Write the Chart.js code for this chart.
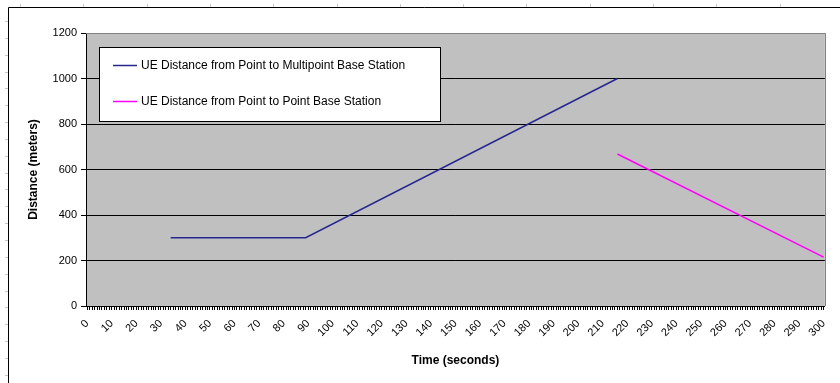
<!DOCTYPE html>
<html><head><meta charset="utf-8">
<script src="https://cdn.jsdelivr.net/npm/chart.js@4/dist/chart.umd.min.js"></script>
<style>html,body{margin:0;padding:0;background:#fff}</style>
</head><body>
<canvas id="c" width="840" height="383"></canvas>
<script>
// ---- data ----
const seriesLabels = [
  'UE Distance from Point to Multipoint Base Station',
  'UE Distance from Point to Point Base Station'
];
const seriesColors = ['#262690', '#FF00FF'];
const multipointTime = [34, 89, 216];
const multipointDist = [300, 300, 1000];
const p2pTime = [216, 300];
const p2pDist = [668, 215];
const xLabelValues = [0,10,20,30,40,50,60,70,80,90,100,110,120,130,140,150,160,170,180,190,200,210,220,230,240,250,260,270,280,290,300];
const yTickValues = [0,200,400,600,800,1000,1200];
const xTitle = 'Time (seconds)';
const yTitle = 'Distance (meters)';

const FONT = "'Liberation Sans', Arial, sans-serif";
const toPts = (xs, ys) => xs.map((x, i) => ({x: x, y: ys[i]}));

const bgPlugin = {
  id: 'bg',
  beforeDraw(chart) {
    const {ctx, chartArea: a, width, height} = chart;
    ctx.save();
    ctx.fillStyle = '#ffffff';
    ctx.fillRect(0, 0, width, height);
    // spreadsheet cell marks outside the chart object
    ctx.strokeStyle = '#c8c8c8';
    ctx.lineWidth = 1;
    for (let y = 21; y < height; y += 16.85) {
      ctx.beginPath(); ctx.moveTo(5, Math.round(y) + 0.5); ctx.lineTo(8, Math.round(y) + 0.5); ctx.stroke();
    }
    for (let x = 20; x < width; x += 63.3) {
      ctx.beginPath(); ctx.moveTo(Math.round(x) + 0.5, 4); ctx.lineTo(Math.round(x) + 0.5, 7); ctx.stroke();
    }
    // chart object border
    ctx.strokeStyle = '#000';
    ctx.beginPath();
    ctx.moveTo(8.5, height); ctx.lineTo(8.5, 7.5); ctx.lineTo(width, 7.5);
    ctx.stroke();
    // plot area fill
    ctx.fillStyle = '#C0C0C0';
    ctx.fillRect(a.left, a.top, a.right - a.left, a.bottom - a.top);
    ctx.restore();
  },
  afterDraw(chart) {
    const {ctx, chartArea: a} = chart;
    ctx.save();
    // plot border top/right
    ctx.strokeStyle = '#808080';
    ctx.lineWidth = 1;
    ctx.beginPath();
    ctx.moveTo(a.left, Math.round(a.top) + 0.5);
    ctx.lineTo(Math.round(a.right) + 0.5, Math.round(a.top) + 0.5);
    ctx.lineTo(Math.round(a.right) + 0.5, a.bottom);
    ctx.stroke();
    // legend box
    const bx = 99.5, by = 47.5, bw = 341, bh = 74;
    ctx.fillStyle = '#fff';
    ctx.fillRect(bx, by, bw, bh);
    ctx.strokeStyle = '#000';
    ctx.strokeRect(bx, by, bw, bh);
    ctx.font = '12px ' + FONT;
    ctx.textBaseline = 'middle';
    ctx.textAlign = 'left';
    const rows = [65, 101];
    chart.data.datasets.forEach((ds, i) => {
      const y = rows[i] + 0.5;
      ctx.strokeStyle = ds.borderColor;
      ctx.lineWidth = 1.5;
      ctx.beginPath(); ctx.moveTo(113, y); ctx.lineTo(137, y); ctx.stroke();
      ctx.fillStyle = '#000';
      ctx.fillText(ds.label, 141, rows[i] + 1);
    });
    ctx.restore();
  }
};

new Chart(document.getElementById('c'), {
  type: 'line',
  data: {
    datasets: [
      {label: seriesLabels[0], data: toPts(multipointTime, multipointDist), borderColor: seriesColors[0], borderWidth: 1.5, pointRadius: 0, fill: false, tension: 0},
      {label: seriesLabels[1], data: toPts(p2pTime, p2pDist), borderColor: seriesColors[1], borderWidth: 1.5, pointRadius: 0, fill: false, tension: 0}
    ]
  },
  options: {
    responsive: false,
    animation: false,
    layout: {padding: {top: 33, right: 13, left: 0, bottom: 0}},
    plugins: {legend: {display: false}, tooltip: {enabled: false}},
    scales: {
      x: {
        type: 'linear',
        min: -0.5,
        max: 300.5,
        afterBuildTicks(scale) {
          const t = [];
          for (let v = 0; v <= 300; v++) t.push({value: v});
          scale.ticks = t;
        },
        afterFit(scale) { scale.height = 77; },
        grid: {drawOnChartArea: false, color: '#000', tickLength: 4, tickWidth: 1},
        border: {color: '#000', width: 1},
        ticks: {
          autoSkip: false,
          maxRotation: 45,
          minRotation: 45,
          padding: 7,
          color: '#000',
          font: {family: FONT, size: 11},
          callback: (v) => xLabelValues.includes(v) ? String(v) : ''
        },
        title: {display: true, text: xTitle, color: '#000', font: {family: FONT, size: 12, weight: 'bold'}, padding: {top: 0, bottom: 15}}
      },
      y: {
        min: 0,
        max: 1200,
        afterBuildTicks(scale) { scale.ticks = yTickValues.map(v => ({value: v})); },
        afterFit(scale) { scale.width = 86; },
        grid: {color: (c) => c.tick && c.tick.value === 1200 ? '#808080' : '#000', tickColor: '#000', tickLength: 5},
        border: {color: '#000', width: 1},
        ticks: {padding: 4, color: '#000', font: {family: FONT, size: 11}, callback: (v) => String(v)},
        title: {display: true, text: yTitle, color: '#000', font: {family: FONT, size: 12, weight: 'bold'}, padding: {top: 26, bottom: 0}}
      }
    }
  },
  plugins: [bgPlugin]
});
</script>
</body></html>
